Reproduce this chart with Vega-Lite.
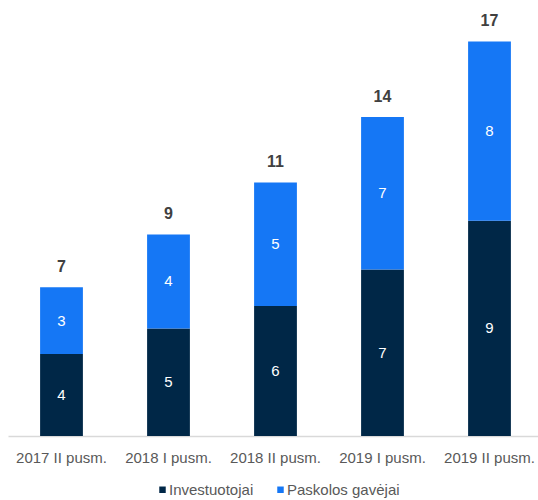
{
  "$schema": "https://vega.github.io/schema/vega-lite/v6.json",
  "width": 535,
  "height": 410,
  "autosize": {"type": "none"},
  "padding": {"left": 8, "top": 26, "right": 0, "bottom": 64},
  "background": "white",
  "config": {
    "view": {"stroke": null},
    "font": "Liberation Sans"
  },
  "data": {
    "values": [
      {"period": "2017 II pusm.", "type": "Investuotojai", "value": 3.6},
      {"period": "2017 II pusm.", "type": "Paskolos gavėjai", "value": 2.93},
      {"period": "2018 I pusm.", "type": "Investuotojai", "value": 4.72},
      {"period": "2018 I pusm.", "type": "Paskolos gavėjai", "value": 4.13},
      {"period": "2018 II pusm.", "type": "Investuotojai", "value": 5.71},
      {"period": "2018 II pusm.", "type": "Paskolos gavėjai", "value": 5.42},
      {"period": "2019 I pusm.", "type": "Investuotojai", "value": 7.31},
      {"period": "2019 I pusm.", "type": "Paskolos gavėjai", "value": 6.69},
      {"period": "2019 II pusm.", "type": "Investuotojai", "value": 9.45},
      {"period": "2019 II pusm.", "type": "Paskolos gavėjai", "value": 7.87}
    ]
  },
  "encoding": {
    "x": {
      "field": "period",
      "type": "nominal",
      "sort": null,
      "scale": {"paddingInner": 0.6, "paddingOuter": 0.3},
      "axis": {
        "title": null,
        "labelAngle": 0,
        "ticks": false,
        "labelPadding": 14,
        "labelFontSize": 15,
        "labelColor": "#595959",
        "domainColor": "#d9d9d9",
        "domainWidth": 1.5
      }
    }
  },
  "layer": [
    {
      "mark": {"type": "bar"},
      "encoding": {
        "y": {
          "field": "value",
          "type": "quantitative",
          "stack": "zero",
          "scale": {"domain": [0, 18], "nice": false},
          "axis": null
        },
        "order": {"field": "type", "sort": "ascending"},
        "color": {
          "field": "type",
          "type": "nominal",
          "scale": {
            "domain": ["Investuotojai", "Paskolos gavėjai"],
            "range": ["#002747", "#1577F5"]
          },
          "legend": {
            "title": null,
            "orient": "none",
            "legendX": 147,
            "legendY": 456,
            "direction": "horizontal",
            "symbolType": "square",
            "symbolSize": 42,
            "symbolStrokeWidth": 0,
            "labelFontSize": 15,
            "labelColor": "#595959",
            "labelOffset": -1,
            "columnPadding": 19
          }
        }
      }
    },
    {
      "mark": {"type": "text", "color": "white", "fontSize": 15},
      "encoding": {
        "y": {"field": "value", "type": "quantitative", "stack": "zero", "bandPosition": 0.5},
        "order": {"field": "type", "sort": "ascending"},
        "detail": {"field": "type"},
        "text": {"field": "value", "type": "quantitative", "format": ".0f"}
      }
    },
    {
      "mark": {"type": "text", "color": "#404040", "fontSize": 16, "fontWeight": "bold", "baseline": "alphabetic", "dy": -15},
      "encoding": {
        "y": {"aggregate": "sum", "field": "value", "type": "quantitative"},
        "text": {"aggregate": "sum", "field": "value", "type": "quantitative", "format": ".0f"}
      }
    }
  ]
}
